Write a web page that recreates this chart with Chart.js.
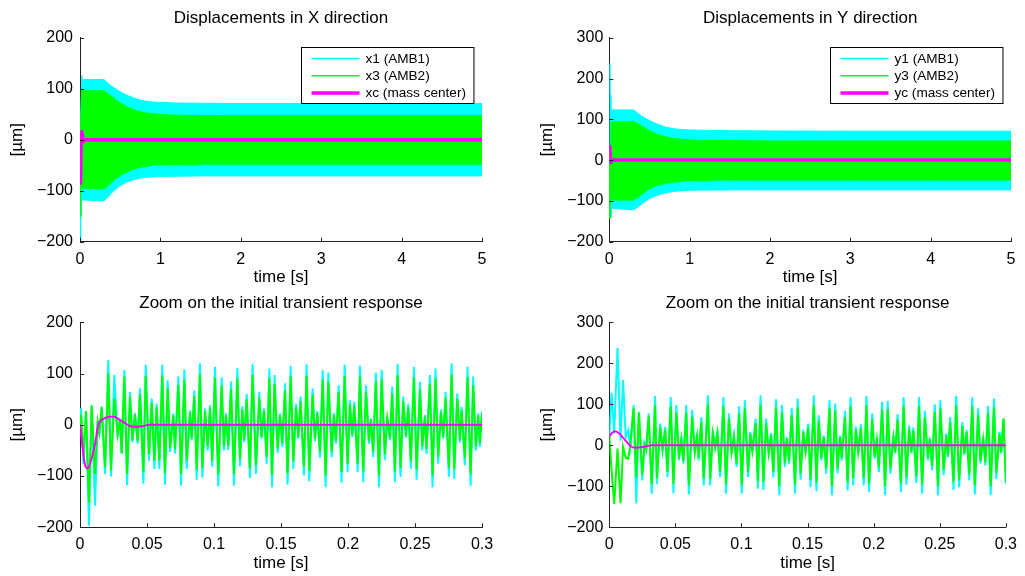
<!DOCTYPE html>
<html>
<head>
<meta charset="utf-8">
<script src="https://cdn.jsdelivr.net/npm/chart.js@4.4.0/dist/chart.umd.min.js"></script>
<style>
  body { margin: 0; background: #fff; width: 1025px; height: 576px; overflow: hidden; position: relative; }
  canvas { position: absolute; }
</style>
</head>
<body>
<canvas id="chartX" width="512" height="288" style="left:0;top:0"></canvas>
<canvas id="chartY" width="513" height="288" style="left:512px;top:0"></canvas>
<canvas id="zoomX" width="512" height="288" style="left:0;top:288px"></canvas>
<canvas id="zoomY" width="513" height="288" style="left:512px;top:288px"></canvas>
<script>
// ---- tick labels ----
const ticksLong = [0, 1, 2, 3, 4, 5];
const ticksShort = [0, 0.05, 0.1, 0.15, 0.2, 0.25, 0.3];
const ticksX = [-200, -100, 0, 100, 200];
const ticksY = [-200, -100, 0, 100, 200, 300];

const labelsX = ['x1 (AMB1)', 'x3 (AMB2)', 'xc (mass center)'];
const labelsY = ['y1 (AMB1)', 'y3 (AMB2)', 'yc (mass center)'];

// ---- 0..5 s: oscillation envelopes ----
const envT = [0, 0.007, 0.012, 0.021, 0.03, 0.3, 0.35, 0.4, 0.5, 0.6, 0.7, 0.8, 0.9, 1.0, 1.2, 1.5, 2, 3, 4, 5];
const x1Up = [30, 38, 40, 126, 118, 118, 110, 104, 94, 86, 80, 76, 74, 73, 72, 71.5, 71, 71, 71, 71];
const x1Lo = [-20, -197, -158, -101, -118, -120, -112, -103, -90, -82, -77, -74, -73, -72, -71.5, -71, -71, -71, -71, -71];
const x3Up = [20, 30, 34, 100, 96, 96, 90, 84, 72, 63, 57, 53, 51, 49.5, 48, 47.5, 47, 47, 47, 47];
const x3Lo = [-10, -151, -96, -89, -95, -96, -90, -82, -70, -62, -56, -53, -50, -49, -48.5, -48, -48, -48, -48, -48];
const y1Up = [24, 237, 159, 98, 123, 123, 116, 108, 97, 88, 81, 77, 75, 74, 73, 72, 71.5, 71, 71, 71];
const y1Lo = [20, 12, -4, -141, -118, -122, -116, -108, -94, -86, -80, -77, -75, -74, -73.5, -73, -73, -73, -73, -73];
const y3Up = [24, -8, -4, 90, 94, 94, 90, 84, 72, 63, 57, 53, 51, 49.5, 48, 47.5, 47, 47, 47, 47];
const y3Lo = [20, -143, -37, -78, -98, -98, -92, -84, -70, -62, -57, -54, -52, -50, -49.5, -49, -49, -49, -49, -49];

// ---- mass center ----
const tXc = [0, 0.002, 0.0035, 0.0055, 0.008, 0.011, 0.0137, 0.018, 0.0244, 0.03, 0.035, 0.0398, 0.046, 0.052, 0.1, 0.2, 0.3, 5];
const xc = [0, -45, -75, -85, -72, -40, 0, 12, 16, 9, 1, -4, -3, 0, 0, 0, 0, 0];
const tYc = [0, 0.002, 0.0043, 0.007, 0.010, 0.013, 0.0155, 0.018, 0.0205, 0.024, 0.028, 0.033, 0.04, 0.1, 0.2, 0.3, 5];
const yc = [22, 30, 34, 30, 20, 9, 0, -5, -6, -5, -2, 0, 0, 0, 0, 0, 0];

// ---- 0..0.3 s: peaks and troughs ----
const tX = [
  0, 0.0008, 0.0025, 0.0045, 0.0067, 0.0087, 0.0112, 0.0132, 0.0144, 0.0162, 0.0187, 0.0211, 0.0231, 0.0256, 0.0281, 0.0298,
  0.0311, 0.0331, 0.0351, 0.0373, 0.0391, 0.0410, 0.0430, 0.0448, 0.0473, 0.0490, 0.0515, 0.0535, 0.0555, 0.0572, 0.0592,
  0.0614, 0.0634, 0.0654, 0.0672, 0.0696, 0.0709, 0.0734, 0.0754, 0.0779, 0.0796, 0.0821, 0.0833, 0.0853, 0.0871, 0.0895,
  0.0913, 0.0933, 0.0953, 0.0970, 0.0987,
  0.1007, 0.1032, 0.1057, 0.1074, 0.1089, 0.1107, 0.1127, 0.1149, 0.1174, 0.1194, 0.1211, 0.1226, 0.1244, 0.1268, 0.1288,
  0.1313, 0.1338, 0.1355, 0.1373, 0.1393, 0.1413, 0.1433, 0.1452, 0.1475, 0.1492, 0.1510, 0.1530, 0.1549, 0.1572, 0.1592,
  0.1612, 0.1629, 0.1646, 0.1671, 0.1691, 0.1711, 0.1736, 0.1753, 0.1771, 0.1791, 0.1811, 0.1833, 0.1853, 0.1878, 0.1895,
  0.1910, 0.1930, 0.1952, 0.1975,
  0.1997, 0.2014, 0.2032, 0.2047, 0.2072, 0.2089, 0.2114, 0.2134, 0.2156, 0.2171, 0.2188, 0.2208, 0.2231, 0.2251, 0.2275,
  0.2293, 0.2313, 0.2330, 0.2350, 0.2370, 0.2392, 0.2412, 0.2432, 0.2450, 0.2469, 0.2492, 0.2512, 0.2537, 0.2554, 0.2574,
  0.2586, 0.2611, 0.2631, 0.2653, 0.2673, 0.2693, 0.2711, 0.2728, 0.2753, 0.2773, 0.2793, 0.2815, 0.2835, 0.2847, 0.2872,
  0.2892, 0.2915, 0.2934, 0.2954, 0.2972, 0.2984, 0.3
];
const x1 = [
  0, 32, -76, 27, -197, 38, -158, 8, -20, 36, -96, 126, -101, 97, -24, 12,
  -57, 107, -118, 64, -34, 23, -37, 71, -115, 117, -70, 51, -86, 41, -86,
  117, -117, 87, -53, 22, -56, 94, -119, 108, -86, 28, -30, 67, -107, 120,
  -103, 32, -50, 38, -82,
  113, -120, 92, -50, 22, -49, 85, -119, 111, -81, 36, -34, 60, -104, 119,
  -96, 64, -27, 32, -76, 110, -122, 97, -55, 22, -43, 81, -117, 115, -86,
  41, -27, 55, -99, 118, -110, 71, -32, 27, -64, 107, -122, 102, -63, 23,
  -37, 77, -113, 117,
  -92, 48, -24, 45, -92, 115, -112, 77, -37, 12, -63, 102, -122, 107, -69,
  15, -30, 74, -112, 119, -102, 55, -25, 41, -86, 113, -107, 84, -50, 19,
  -57, 97, -122, 110, -76, 30, -27, 64, -102, 120, -105, 61, -34, 35, -79,
  113, -119, 94, -50, 22, -43, 27
];
const x3 = [
  0, 20, -60, 27, -151, 38, -96, 5, -15, 34, -83, 100, -89, 51, -20, 10,
  -55, 94, -96, 55, -30, 20, -32, 60, -92, 95, -58, 43, -70, 35, -70,
  96, -94, 72, -45, 18, -47, 78, -96, 88, -70, 24, -26, 56, -88, 98,
  -85, 27, -42, 32, -70,
  92, -97, 76, -42, 18, -41, 70, -96, 90, -67, 30, -29, 50, -85, 97,
  -79, 53, -23, 27, -63, 90, -98, 80, -46, 18, -36, 67, -95, 94, -71,
  34, -23, 46, -81, 96, -90, 59, -27, 23, -53, 88, -99, 84, -52, 19,
  -31, 64, -92, 95,
  -76, 40, -20, 38, -76, 94, -91, 64, -31, 10, -52, 84, -99, 88, -57,
  13, -25, 61, -91, 97, -84, 46, -21, 34, -71, 92, -87, 69, -42, 16,
  -47, 80, -99, 90, -63, 25, -23, 53, -84, 98, -86, 51, -29, 29, -65,
  92, -97, 77, -42, 18, -36, 23
];

const tY = [
  0, 0.0017, 0.0037, 0.0062, 0.0085, 0.0104, 0.0124, 0.0142, 0.0159, 0.0184, 0.0204, 0.0224, 0.0249, 0.0266, 0.0279, 0.0298,
  0.0321, 0.0346, 0.0360, 0.0385, 0.0403, 0.0423, 0.0440, 0.0465, 0.0485, 0.0507, 0.0527, 0.0545, 0.0560, 0.0582, 0.0602,
  0.0627, 0.0647, 0.0664, 0.0676, 0.0696, 0.0714, 0.0746, 0.0763, 0.0783, 0.0801, 0.0818, 0.0838, 0.0863, 0.0883, 0.0905,
  0.0925, 0.0943, 0.0963, 0.0982,
  0.1002, 0.1025, 0.1050, 0.1067, 0.1082, 0.1107, 0.1124, 0.1144, 0.1166, 0.1186, 0.1206, 0.1224, 0.1241, 0.1261, 0.1286,
  0.1306, 0.1328, 0.1343, 0.1360, 0.1380, 0.1405, 0.1425, 0.1447, 0.1467, 0.1485, 0.1505, 0.1522, 0.1547, 0.1567, 0.1584,
  0.1604, 0.1622, 0.1641, 0.1666, 0.1684, 0.1709, 0.1726, 0.1746, 0.1758, 0.1783, 0.1803, 0.1825, 0.1845, 0.1865, 0.1883,
  0.1903, 0.1925, 0.1945, 0.1965,
  0.1989, 0.2007, 0.2024, 0.2039, 0.2064, 0.2086, 0.2106, 0.2126, 0.2149, 0.2163, 0.2181, 0.2206, 0.2226, 0.2248, 0.2268,
  0.2285, 0.2300, 0.2323, 0.2343, 0.2367, 0.2387, 0.2410, 0.2425, 0.2442, 0.2462, 0.2487, 0.2504, 0.2529, 0.2549, 0.2561,
  0.2579, 0.2604, 0.2624, 0.2646, 0.2671, 0.2686, 0.2703, 0.2723, 0.2746, 0.2765, 0.2790, 0.2808, 0.2828, 0.2845, 0.2865,
  0.2885, 0.2910, 0.2927, 0.2952, 0.2964, 0.2982, 0.3
];
const y1 = [
  24, 128, 29, 237, 12, 159, 20, 37, -4, 98, -141, 82, -86, 4, -12, 78,
  -118, 120, -94, 53, -12, 45, -78, 118, -117, 98, -37, 20, -45, 98, -120,
  86, -20, 29, -37, 69, -98, 122, -98, 37, -4, 37, -78, 118, -118, 78,
  -20, 24, -53, 96,
  -118, 110, -78, 33, -16, 65, -106, 122, -109, 65, -24, 30, -78, 112, -122,
  98, -53, 20, -45, 90, -118, 114, -84, 38, -19, 53, -102, 122, -112, 73,
  -37, 24, -69, 110, -122, 102, -69, 24, -37, 84, -110, 117, -98, 45, -20,
  51, -98, 120, -114,
  78, -33, 16, -65, 106, -122, 108, -69, 24, -20, 76, -114, 118, -96, 49,
  -20, 43, -92, 118, -118, 84, -37, 19, -61, 100, -122, 110, -73, 29, -29,
  69, -109, 120, -102, 57, -24, 38, -86, 117, -120, 90, -45, 19, -49, 96,
  -122, 114, -82, 33, -20, 65, -94
];
const y3 = [
  24, -60, -143, -8, -141, -4, -30, -33, 0, 90, -78, 80, -73, 0, -10, 70,
  -95, 98, -80, 45, -10, 38, -65, 95, -95, 80, -32, 15, -38, 80, -98,
  70, -18, 22, -30, 58, -80, 100, -82, 30, -5, 30, -65, 96, -96, 65,
  -18, 20, -45, 78,
  -96, 90, -65, 28, -14, 54, -87, 99, -89, 54, -20, 25, -65, 92, -99,
  80, -44, 17, -38, 74, -96, 93, -69, 32, -16, 44, -84, 99, -91, 60,
  -31, 20, -57, 90, -99, 84, -57, 20, -31, 69, -90, 95, -80, 38, -17,
  42, -80, 98, -93,
  64, -28, 14, -54, 87, -99, 88, -57, 20, -17, 63, -93, 96, -79, 41,
  -17, 36, -76, 96, -96, 69, -31, 16, -50, 82, -99, 90, -60, 24, -24,
  57, -89, 98, -84, 47, -20, 32, -71, 95, -98, 74, -38, 16, -41, 79,
  -99, 93, -68, 28, -17, 65, -90
];

const CYAN = '#00ffff', GREEN = '#00ff00', MAGENTA = '#ff00ff';
const FONT = '"Liberation Sans", Arial, Helvetica, sans-serif';

function pts(t, v) {
  return t.map((x, i) => ({x: x, y: v[i]}));
}

// MATLAB style: ticks pointing into the axes
const inwardTicks = {
  id: 'inwardTicks',
  afterDraw(chart) {
    const {ctx, chartArea: a, scales: {x, y}} = chart;
    ctx.save();
    ctx.strokeStyle = '#222';
    ctx.lineWidth = 1;
    ctx.beginPath();
    x.ticks.forEach(t => {
      const px = Math.round(x.getPixelForValue(t.value)) + 0.5;
      ctx.moveTo(px, a.bottom);
      ctx.lineTo(px, a.bottom - 4);
    });
    y.ticks.forEach(t => {
      const py = Math.round(y.getPixelForValue(t.value)) + 0.5;
      ctx.moveTo(a.left, py);
      ctx.lineTo(a.left + 4, py);
    });
    ctx.stroke();
    ctx.restore();
  }
};

// boxed legend in the upper right corner of the axes
const boxLegend = {
  id: 'boxLegend',
  afterDraw(chart, args, opts) {
    if (!opts.items) return;
    const {ctx, chartArea: a} = chart;
    ctx.save();
    ctx.font = '13.6px ' + FONT;
    const textW = Math.max(...opts.items.map(it => ctx.measureText(it.text).width));
    const w = 10 + 48 + 6 + textW + 8;
    const h = 56;
    const x0 = Math.round(a.right - 9 - w) + 0.5;
    const y0 = Math.round(a.top + 9) + 0.5;
    ctx.fillStyle = '#fff';
    ctx.fillRect(x0, y0, w, h);
    ctx.strokeStyle = '#000';
    ctx.lineWidth = 1;
    ctx.strokeRect(x0, y0, w, h);
    opts.items.forEach((it, i) => {
      const yy = y0 + 11 + i * 17.2;
      ctx.strokeStyle = it.color;
      ctx.lineWidth = it.width;
      ctx.beginPath();
      ctx.moveTo(x0 + 10, yy);
      ctx.lineTo(x0 + 58, yy);
      ctx.stroke();
      ctx.fillStyle = '#000';
      ctx.textBaseline = 'middle';
      ctx.fillText(it.text, x0 + 64, yy + 0.5);
    });
    ctx.restore();
  }
};

function makeChart(id, c) {
  new Chart(document.getElementById(id), {
    type: 'line',
    data: { datasets: c.datasets },
    options: {
      responsive: false,
      animation: false,
      devicePixelRatio: 1,
      layout: { padding: { left: 0, right: c.padRight, top: 0, bottom: 0 } },
      elements: { point: { radius: 0 } },
      plugins: {
        legend: { display: false },
        tooltip: { enabled: false },
        title: {
          display: true, text: c.title, color: '#000', fullSize: false,
          font: { family: FONT, size: 17, weight: 'normal', lineHeight: 1.2 },
          padding: c.titlePad
        },
        boxLegend: { items: c.legend }
      },
      scales: {
        x: {
          type: 'linear', min: 0, max: c.xMax,
          afterBuildTicks: s => { s.ticks = c.xTicks.map(v => ({value: v})); },
          afterFit: s => { s.height = c.xAxisH; },
          grid: { display: false, drawTicks: false },
          border: { display: true, color: '#222', width: 1 },
          ticks: {
            color: '#000', padding: 8, maxRotation: 0, autoSkip: false,
            font: { family: FONT, size: 16 },
            callback: v => String(v)
          },
          title: {
            display: true, text: 'time [s]', color: '#000',
            font: { family: FONT, size: 17, lineHeight: 1.2 },
            padding: { top: 0, bottom: c.xTitlePad }
          }
        },
        y: {
          min: c.yTicks[0], max: c.yTicks[c.yTicks.length - 1],
          afterBuildTicks: s => { s.ticks = c.yTicks.map(v => ({value: v})); },
          afterFit: s => { s.width = c.yAxisW; },
          grid: { display: false, drawTicks: false },
          border: { display: true, color: '#222', width: 1 },
          ticks: {
            color: '#000', padding: c.yTickPad,
            font: { family: FONT, size: 16 },
            callback: v => String(v).replace('-', '\u2212')
          },
          title: {
            display: true, text: '[\u00b5m]', color: '#000',
            font: { family: FONT, size: 17, lineHeight: 1.2 },
            padding: { top: c.yTitlePad, bottom: 0 }
          }
        }
      }
    },
    plugins: [inwardTicks, boxLegend]
  });
}

// envelope bands: first dataset is drawn on top
function bandSets(up1, lo1, up3, lo3, tc, vc) {
  return [
    { data: pts(tc, vc), borderColor: MAGENTA, borderWidth: 3.5, cubicInterpolationMode: 'monotone', fill: false },
    { data: pts(envT, up3), borderColor: GREEN, backgroundColor: GREEN, borderWidth: 1, fill: '+1' },
    { data: pts(envT, lo3), borderColor: GREEN, borderWidth: 1, fill: false },
    { data: pts(envT, up1), borderColor: CYAN, backgroundColor: CYAN, borderWidth: 1, fill: '+1' },
    { data: pts(envT, lo1), borderColor: CYAN, borderWidth: 1, fill: false }
  ];
}

function zoomSets(t, v1, v3, tc, vc) {
  return [
    { data: pts(tc, vc), borderColor: MAGENTA, borderWidth: 2, cubicInterpolationMode: 'monotone', fill: false },
    { data: pts(t, v3), borderColor: GREEN, borderWidth: 2, fill: false },
    { data: pts(t, v1), borderColor: CYAN, borderWidth: 2, fill: false }
  ];
}

function legendOf(labels) {
  return [
    { text: labels[0], color: CYAN, width: 1.5 },
    { text: labels[1], color: GREEN, width: 1.5 },
    { text: labels[2], color: MAGENTA, width: 3.5 }
  ];
}

const topLeft = { padRight: 30, yAxisW: 80, yTickPad: 7, yTitlePad: 7.1, xAxisH: 46.3, xTitlePad: 0.5, titlePad: { top: 7.8, bottom: 9.5 } };
const topRight = { padRight: 14, yAxisW: 97.3, yTickPad: 6, yTitlePad: 25.1, xAxisH: 46.3, xTitlePad: 0.5, titlePad: { top: 7.8, bottom: 9.5 } };
const botLeft = { padRight: 30, yAxisW: 80, yTickPad: 7, yTitlePad: 7.1, xAxisH: 48.7, xTitlePad: 2, titlePad: { top: 5.1, bottom: 8.8 } };
const botRight = { padRight: 14, yAxisW: 97.3, yTickPad: 6, yTitlePad: 25.1, xAxisH: 48.7, xTitlePad: 2, titlePad: { top: 5.1, bottom: 8.8 } };

makeChart('chartX', Object.assign({}, topLeft, {
  title: 'Displacements in X direction', xMax: 5, xTicks: ticksLong, yTicks: ticksX,
  datasets: bandSets(x1Up, x1Lo, x3Up, x3Lo, tXc, xc), legend: legendOf(labelsX)
}));
makeChart('chartY', Object.assign({}, topRight, {
  title: 'Displacements in Y direction', xMax: 5, xTicks: ticksLong, yTicks: ticksY,
  datasets: bandSets(y1Up, y1Lo, y3Up, y3Lo, tYc, yc), legend: legendOf(labelsY)
}));
makeChart('zoomX', Object.assign({}, botLeft, {
  title: 'Zoom on the initial transient response', xMax: 0.3, xTicks: ticksShort, yTicks: ticksX,
  datasets: zoomSets(tX, x1, x3, tXc, xc)
}));
makeChart('zoomY', Object.assign({}, botRight, {
  title: 'Zoom on the initial transient response', xMax: 0.3, xTicks: ticksShort, yTicks: ticksY,
  datasets: zoomSets(tY, y1, y3, tYc, yc)
}));
</script>
</body>
</html>
